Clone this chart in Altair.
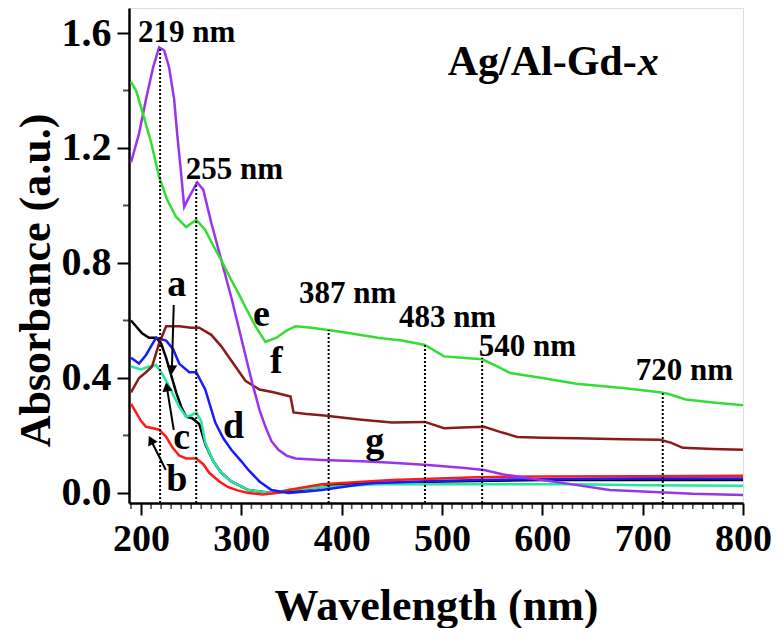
import altair as alt
import pandas as pd

# ---- data ----
a_x = [190, 195, 201, 208, 215, 220, 225, 230, 235, 240, 245, 251, 258, 264, 272, 280, 290, 307, 330, 347, 400, 500, 600, 700, 800]
a_y = [0.60, 0.58, 0.555, 0.54, 0.54, 0.52, 0.47, 0.41, 0.35, 0.30, 0.265, 0.26, 0.24, 0.17, 0.11, 0.07, 0.04, 0.01, 0.0, 0.005, 0.03, 0.04, 0.045, 0.045, 0.045]

c_x = [190, 200, 208, 215, 222, 228, 238, 245, 250, 255, 260, 264, 272, 280, 290, 307, 330, 347, 380, 436, 500, 634, 700, 800]
c_y = [0.44, 0.43, 0.44, 0.445, 0.41, 0.37, 0.30, 0.265, 0.27, 0.28, 0.25, 0.175, 0.11, 0.07, 0.04, 0.01, 0.0, 0.01, 0.02, 0.03, 0.03, 0.03, 0.027, 0.025]

b_x = [190, 195, 200, 205, 212, 218, 225, 231, 238, 245, 255, 262, 268, 278, 287, 297, 307, 321, 335, 347, 380, 450, 535, 600, 700, 800]
b_y = [0.31, 0.28, 0.25, 0.23, 0.225, 0.22, 0.195, 0.16, 0.13, 0.12, 0.12, 0.10, 0.07, 0.04, 0.02, 0.008, 0.0, -0.005, 0.0, 0.01, 0.03, 0.045, 0.055, 0.057, 0.058, 0.06]

d_x = [190, 198, 205, 215, 225, 232, 238, 248, 255, 264, 274, 282, 290, 300, 307, 318, 330, 347, 365, 380, 420, 436, 480, 535, 600, 700, 800]
d_y = [0.47, 0.45, 0.48, 0.54, 0.53, 0.50, 0.45, 0.42, 0.42, 0.36, 0.245, 0.19, 0.15, 0.11, 0.08, 0.04, 0.01, 0.0, 0.005, 0.01, 0.03, 0.035, 0.04, 0.045, 0.048, 0.05, 0.05]

f_x = [190, 198, 205, 211, 218, 225, 238, 250, 258, 270, 280, 292, 304, 318, 332, 349, 352, 365, 380, 420, 450, 483, 502, 520, 542, 560, 575, 600, 634, 680, 717, 728, 740, 770, 800]
f_y = [0.35, 0.40, 0.42, 0.44, 0.52, 0.58, 0.58, 0.575, 0.575, 0.55, 0.51, 0.45, 0.39, 0.36, 0.35, 0.335, 0.28, 0.275, 0.27, 0.255, 0.245, 0.247, 0.225, 0.228, 0.23, 0.21, 0.195, 0.192, 0.19, 0.187, 0.185, 0.175, 0.157, 0.153, 0.15]

g_x = [190, 194, 198, 205, 212, 218, 223, 228, 233, 236, 240, 243, 248, 256, 262, 270, 280, 290, 297, 304, 311, 318, 324, 330, 337, 345, 354, 380, 420, 450, 486, 520, 542, 560, 585, 620, 667, 700, 750, 800]
g_y = [1.15, 1.20, 1.25, 1.37, 1.48, 1.55, 1.54, 1.48, 1.37, 1.25, 1.11, 0.995, 1.03, 1.08, 1.055, 0.94, 0.81, 0.68, 0.58, 0.48, 0.38, 0.29, 0.23, 0.18, 0.15, 0.13, 0.12, 0.115, 0.11, 0.105, 0.097, 0.088, 0.08, 0.065, 0.052, 0.035, 0.01, 0.005, -0.003, -0.007]

e_x = [190, 195, 201, 210, 218, 226, 235, 245, 255, 264, 272, 280, 290, 297, 305, 314, 324, 335, 345, 354, 370, 390, 410, 436, 460, 483, 502, 520, 540, 555, 568, 600, 634, 680, 717, 725, 743, 770, 800]
e_y = [1.43, 1.40, 1.33, 1.22, 1.10, 1.02, 0.96, 0.925, 0.95, 0.915, 0.86, 0.81, 0.74, 0.695, 0.64, 0.58, 0.525, 0.54, 0.565, 0.58, 0.575, 0.565, 0.555, 0.54, 0.53, 0.515, 0.475, 0.47, 0.465, 0.44, 0.417, 0.40, 0.38, 0.365, 0.35, 0.345, 0.325, 0.315, 0.305]

series_names = ["a", "c", "b", "d", "f", "g", "e"]
series_colors = ["#000000", "#22e8a0", "#ff1a1a", "#1a1aff", "#8b1a1a", "#9933ee", "#33dd33"]
series_x = [a_x, c_x, b_x, d_x, f_x, g_x, e_x]
series_y = [a_y, c_y, b_y, d_y, f_y, g_y, e_y]

# peak markers (dotted lines)
peak_wl = [219, 255, 387, 483, 540, 720]
peak_top = [1.55, 1.08, 0.567, 0.515, 0.47, 0.35]

# annotation texts (data coordinates)
peak_text = ["219 nm", "255 nm", "387 nm", "483 nm", "540 nm", "720 nm"]
peak_text_x = [245.5, 293, 406, 505.5, 585, 741.5]
peak_text_y = [1.60, 1.123, 0.692, 0.609, 0.508, 0.424]

letter_text = ["a", "e", "f", "d", "c", "b", "g"]
letter_x = [235.6, 320, 334.8, 292.2, 240.6, 235.6, 433]
letter_y = [0.723, 0.619, 0.456, 0.230, 0.191, 0.045, 0.177]

# arrows: start -> end (head at end)
arrow_x1 = [232.6, 232.6, 224.7]
arrow_y1 = [0.654, 0.219, 0.080]
arrow_x2 = [230.7, 225.7, 209.8]
arrow_y2 = [0.428, 0.369, 0.184]
arrow_angle = [182, 351, 333]

# axis ticks
x_major = [200, 300, 400, 500, 600, 700, 800]
x_minor = [190, 210, 220, 230, 240, 250, 260, 270, 280, 290, 310, 320, 330, 340, 350, 360, 370, 380, 390,
           410, 420, 430, 440, 450, 460, 470, 480, 490, 510, 520, 530, 540, 550, 560, 570, 580, 590,
           610, 620, 630, 640, 650, 660, 670, 680, 690, 710, 720, 730, 740, 750, 760, 770, 780, 790]
y_major = [0.0, 0.4, 0.8, 1.2, 1.6]
y_minor = [0.2, 0.6, 1.0, 1.4]

XMIN, XMAX = 188, 800
YMIN, YMAX = -0.035, 1.687

FONT = "Liberation Serif"

rows = []
for name, xs, ys in zip(series_names, series_x, series_y):
    for xv, yv in zip(xs, ys):
        rows.append({"s": name, "wl": xv, "ab": yv})
df = pd.DataFrame(rows)

xscale = alt.Scale(domain=[XMIN, XMAX], nice=False, zero=False)
yscale = alt.Scale(domain=[YMIN, YMAX], nice=False, zero=False)

xaxis = alt.Axis(
    values=x_major, format="d", tickSize=12,
    labelFont=FONT, labelFontSize=38, labelFontWeight="bold", labelColor="black",
    labelPadding=5, labelOverlap=False, labelFlush=False,
    titleFont=FONT, titleFontSize=44, titleFontWeight="bold", titleColor="black",
    titlePadding=26,
    grid=False, domainColor="black", domainWidth=2.5, tickColor="black", tickWidth=2,
)
yaxis = alt.Axis(
    values=y_major, format=".1f", tickSize=12,
    labelFont=FONT, labelFontSize=40, labelFontWeight="bold", labelColor="black",
    labelPadding=6, labelOverlap=False, labelFlush=False,
    titleFont=FONT, titleFontSize=44, titleFontWeight="bold", titleColor="black",
    titlePadding=3, titleY=272,
    grid=False, domainColor="black", domainWidth=2.5, tickColor="black", tickWidth=2,
)

def xa(field):
    return alt.X(field, scale=xscale)

def ya(field):
    return alt.Y(field, scale=yscale)

lines = alt.Chart(df).mark_line(strokeWidth=2.5).encode(
    x=alt.X("wl:Q", scale=xscale, axis=xaxis, title="Wavelength (nm)"),
    y=alt.Y("ab:Q", scale=yscale, axis=yaxis, title="Absorbance (a.u.)"),
    color=alt.Color("s:N", scale=alt.Scale(domain=series_names, range=series_colors), legend=None),
    detail="s:N",
)

# minor ticks, drawn outside the frame (bottom and left)
xminor_df = pd.DataFrame({"wl": x_minor, "base": [YMIN] * len(x_minor)})
xminor = alt.Chart(xminor_df).mark_tick(orient="vertical", color="black", thickness=1.6, size=6, yOffset=3).encode(
    x=xa("wl:Q"), y=ya("base:Q")
)
yminor_df = pd.DataFrame({"ab": y_minor, "base": [XMIN] * len(y_minor)})
yminor = alt.Chart(yminor_df).mark_tick(orient="horizontal", color="black", thickness=2, size=6, xOffset=-3).encode(
    x=xa("base:Q"), y=ya("ab:Q")
)

peaks_df = pd.DataFrame({"wl": peak_wl, "top": peak_top, "bot": [YMIN] * len(peak_wl)})
dotted = alt.Chart(peaks_df).mark_rule(color="black", strokeWidth=2, strokeDash=[2, 2]).encode(
    x=xa("wl:Q"), y=ya("bot:Q"), y2="top:Q",
)

ptext_df = pd.DataFrame({"t": peak_text, "x": peak_text_x, "y": peak_text_y})
ptext = alt.Chart(ptext_df).mark_text(font=FONT, fontSize=31, fontWeight="bold", color="black").encode(
    x=xa("x:Q"), y=ya("y:Q"), text="t:N"
)

ltext_df = pd.DataFrame({"t": letter_text, "x": letter_x, "y": letter_y})
ltext = alt.Chart(ltext_df).mark_text(font=FONT, fontSize=38, fontWeight="bold", color="black").encode(
    x=xa("x:Q"), y=ya("y:Q"), text="t:N"
)

title_df = pd.DataFrame({"t": ["Ag/Al-Gd-"], "x": [694.0], "y": [1.50]})
title1 = alt.Chart(title_df).mark_text(font=FONT, fontSize=42, fontWeight="bold", color="black", align="right").encode(
    x=xa("x:Q"), y=ya("y:Q"), text="t:N"
)
title2_df = pd.DataFrame({"t": ["x"], "x": [695.0], "y": [1.50]})
title2 = alt.Chart(title2_df).mark_text(font=FONT, fontSize=42, fontWeight="bold", fontStyle="italic", color="black", align="left").encode(
    x=xa("x:Q"), y=ya("y:Q"), text="t:N"
)

arr_df = pd.DataFrame({"x1": arrow_x1, "y1": arrow_y1, "x2": arrow_x2, "y2": arrow_y2, "ang": arrow_angle})
arr_lines = alt.Chart(arr_df).mark_rule(color="black", strokeWidth=2).encode(
    x=xa("x1:Q"), y=ya("y1:Q"), x2="x2:Q", y2="y2:Q"
)
arr_heads = alt.Chart(arr_df).mark_point(shape="triangle-up", filled=True, color="black", size=110, opacity=1).encode(
    x=xa("x2:Q"), y=ya("y2:Q"),
    angle=alt.Angle("ang:Q", scale=None),
)

chart = alt.layer(lines, xminor, yminor, dotted, arr_lines, arr_heads, ptext, ltext, title1, title2).properties(
    width=614, height=495
).configure_view(stroke="black", strokeWidth=2.5).configure(
    padding={"left": 6, "top": 0, "right": 0, "bottom": 0}, background="white"
)

chart.save("out.html", embed_options={"renderer": "svg", "actions": False})
